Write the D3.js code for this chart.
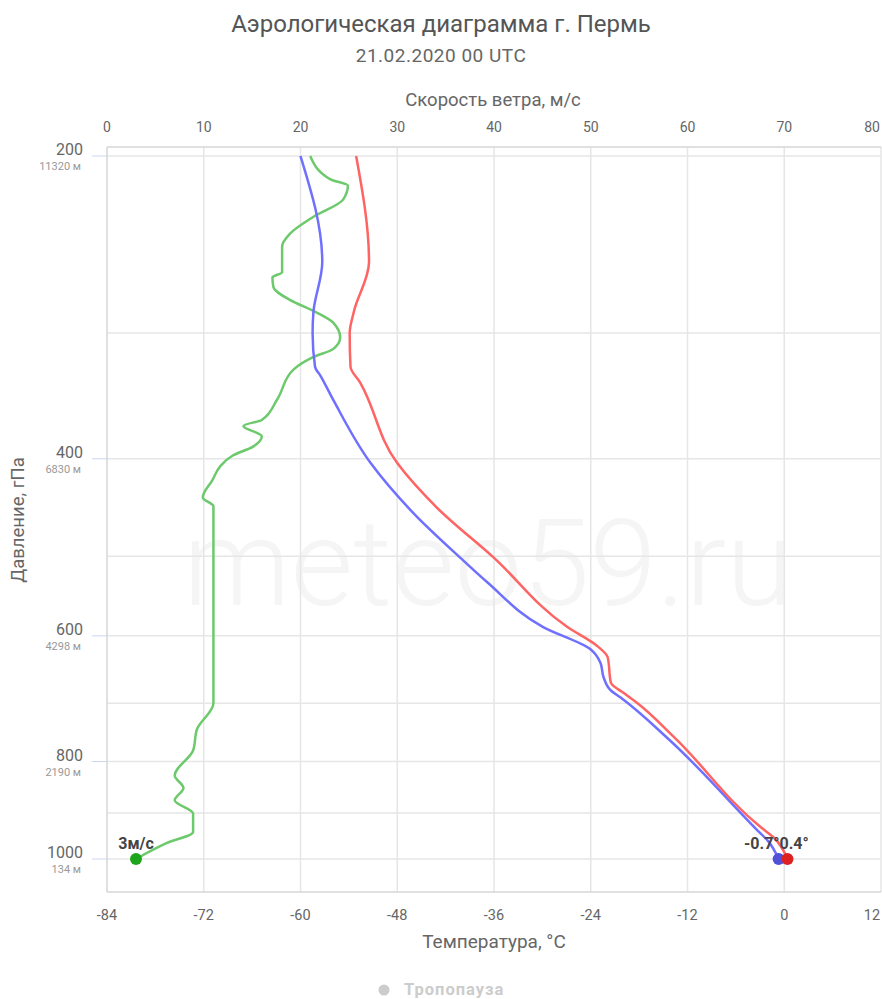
<!DOCTYPE html>
<meta charset="utf-8">
<script src="https://d3js.org/d3.v7.min.js"></script>
<body style="margin:0;background:#fff">
<div id="chart"></div>
</body>
<script>
// pressure levels with labels and heights
const levels = [200, 300, 400, 500, 600, 700, 800, 900, 1000];
const labelLevels = [200, 400, 600, 800, 1000];
const heights = ["11320 м", "6830 м", "4298 м", "2190 м", "134 м"];
const tempTicks = [-84, -72, -60, -48, -36, -24, -12, 0, 12];
const windTicks = [0, 10, 20, 30, 40, 50, 60, 70, 80];

// temperature, °C
const tempP = [200, 255, 286, 300, 324, 336, 404, 448, 501, 588, 615, 630, 668, 684, 700, 756, 930, 952, 1000];
const tempT = [-53.1, -51.5, -53.4, -53.9, -53.8, -52.6, -48.0, -43.0, -36.1, -26.9, -23.1, -21.9, -21.5, -19.9, -18.2, -13.7, -2.9, -1.3, 0.4];

// dew point, °C
const dewP = [200, 255, 286, 300, 324, 331, 350, 404, 453, 505, 531, 588, 619, 638, 660, 680, 691, 758, 937, 960, 1000];
const dewT = [-60.0, -57.3, -58.4, -58.5, -58.2, -57.5, -55.9, -51.3, -46.0, -39.8, -36.8, -29.9, -24.0, -22.8, -22.4, -21.5, -20.3, -14.5, -3.3, -2.0, -0.7];

// wind speed, m/s
const windP = [200, 211, 214, 221, 230, 239, 246, 261, 264, 270, 278, 285, 293, 303, 311, 317, 326, 349, 366, 371, 380, 389, 397, 407, 420, 437, 446, 700, 743, 780, 826, 850, 874, 901, 940, 964, 1000];
const windV = [21.0, 23.1, 24.9, 24.4, 21.3, 18.9, 18.1, 18.1, 17.1, 17.2, 18.9, 21.3, 23.4, 24.1, 23.4, 21.3, 19.3, 17.6, 16.0, 14.1, 16.0, 15.1, 13.0, 11.7, 10.9, 9.9, 11.0, 11.0, 9.3, 8.9, 7.0, 7.9, 7.0, 8.9, 8.9, 6.2, 3.0];

const W = 882, H = 999;
const pLeft = 107, pRight = 881, pTop = 147, pBottom = 892;
const font = "Roboto, 'Open Sans', sans-serif";

const svg = d3.select("#chart").append("svg")
  .attr("width", W).attr("height", H)
  .style("font-family", font);

const y = d3.scaleLog().domain([200, 1000]).range([156, 859]);
const xT = d3.scaleLinear().domain([-84, 12]).range([pLeft, pRight]);
const xW = d3.scaleLinear().domain([0, 80]).range([pLeft, pRight]);

// titles
svg.append("text").attr("x", 441).attr("y", 32).attr("text-anchor", "middle")
  .style("font-size", "24px").style("fill", "#555").text("Аэрологическая диаграмма г. Пермь");
svg.append("text").attr("x", 441).attr("y", 62).attr("text-anchor", "middle")
  .style("font-size", "19px").style("letter-spacing", "0.5px").style("fill", "#666").text("21.02.2020 00 UTC");

// watermark
svg.append("text").attr("x", 488).attr("y", 605).attr("text-anchor", "middle")
  .style("font-size", "121px").style("font-weight", 300).style("fill", "#f5f5f5").text("meteo59.ru");

// grid
const grid = svg.append("g");
grid.selectAll(".hg").data(levels).join("line")
  .attr("x1", pLeft).attr("x2", pRight)
  .attr("y1", d => y(d)).attr("y2", d => y(d))
  .attr("stroke", "#e6e6e6").attr("stroke-width", 1.5);
grid.selectAll(".vg").data(tempTicks.slice(1, -1)).join("line")
  .attr("x1", d => xT(d)).attr("x2", d => xT(d))
  .attr("y1", pTop).attr("y2", pBottom)
  .attr("stroke", "#e6e6e6").attr("stroke-width", 1.5);
grid.append("line").attr("x1", pRight).attr("x2", pRight).attr("y1", pTop).attr("y2", pBottom)
  .attr("stroke", "#e6e6e6").attr("stroke-width", 1.5);
// axis lines
grid.append("line").attr("x1", pLeft).attr("x2", pRight).attr("y1", pTop).attr("y2", pTop)
  .attr("stroke", "#d6d6d6").attr("stroke-width", 1.5);
grid.append("line").attr("x1", pLeft).attr("x2", pRight).attr("y1", pBottom).attr("y2", pBottom)
  .attr("stroke", "#d6d6d6").attr("stroke-width", 1.5);
grid.append("line").attr("x1", pLeft).attr("x2", pLeft).attr("y1", pTop).attr("y2", pBottom)
  .attr("stroke", "#d6d6d6").attr("stroke-width", 1.5);

// pressure labels
const pl = svg.append("g");
pl.selectAll(".tk").data(labelLevels).join("line")
  .attr("x1", 92).attr("x2", pLeft).attr("y1", d => y(d)).attr("y2", d => y(d))
  .attr("stroke", "#ccd6eb").attr("stroke-width", 1);
pl.selectAll(".lb").data(labelLevels).join("text")
  .attr("x", 83).attr("y", d => y(d) - 1).attr("text-anchor", "end")
  .style("font-size", "16px").style("fill", "#666").text(d => d);
pl.selectAll(".hl").data(labelLevels).join("text")
  .attr("x", 81).attr("y", d => y(d) + 14).attr("text-anchor", "end")
  .style("font-size", "11px").style("fill", "#999").text((d, i) => heights[i]);
svg.append("text").attr("transform", "translate(24,520) rotate(-90)").attr("text-anchor", "middle")
  .style("font-size", "18.5px").style("fill", "#666").text("Давление, гПа");

// top axis (wind)
svg.selectAll(".wt").data(windTicks).join("text")
  .attr("x", d => Math.min(xW(d), 872)).attr("y", 132).attr("text-anchor", "middle")
  .style("font-size", "14px").style("fill", "#666").text(d => d);
svg.append("text").attr("x", 493).attr("y", 106).attr("text-anchor", "middle")
  .style("font-size", "18.5px").style("fill", "#666").text("Скорость ветра, м/с");

// bottom axis (temperature)
svg.selectAll(".tt").data(tempTicks).join("text")
  .attr("x", d => Math.max(Math.min(xT(d), 872), 101)).attr("y", 920).attr("text-anchor", "middle")
  .style("font-size", "14.5px").style("fill", "#666").text(d => d);
svg.append("text").attr("x", 494).attr("y", 948).attr("text-anchor", "middle")
  .style("font-size", "19px").style("fill", "#666").text("Температура, °C");

// series
const series = [
  {p: windP, v: windV, x: xW, color: "#6cc96c", dot: "#1ea51e"},
  {p: dewP, v: dewT, x: xT, color: "#7070ff", dot: "#5050d8"},
  {p: tempP, v: tempT, x: xT, color: "#ff6464", dot: "#dd2020"}
];
series.forEach(s => {
  const pts = s.p.map((p, i) => [s.x(s.v[i]), y(p)]);
  svg.append("path")
    .attr("d", d3.line().curve(d3.curveMonotoneY)(pts))
    .attr("fill", "none").attr("stroke", s.color).attr("stroke-width", 2.5)
    .attr("stroke-linejoin", "round");
});
series.forEach(s => {
  const n = s.p.length - 1;
  svg.append("circle").attr("cx", s.x(s.v[n])).attr("cy", y(s.p[n])).attr("r", 6).attr("fill", s.dot);
});

// data labels
const lbl = (x, anchor, t) => svg.append("text").attr("x", x).attr("y", 849)
  .attr("text-anchor", anchor).style("font-size", "16px").style("font-weight", "bold")
  .style("fill", "#444").text(t);
lbl(xW(windV[windV.length - 1]), "middle", windV[windV.length - 1].toFixed(0) + "м/с");
lbl(xT(dewT[dewT.length - 1]) + 1, "end", dewT[dewT.length - 1].toFixed(1) + "°");
lbl(xT(tempT[tempT.length - 1]) - 8, "start", tempT[tempT.length - 1].toFixed(1) + "°");

// legend
svg.append("circle").attr("cx", 384).attr("cy", 990).attr("r", 5.5).attr("fill", "#ccc");
svg.append("text").attr("x", 404).attr("y", 995)
  .style("font-size", "16.5px").style("font-weight", "bold").style("letter-spacing", "1px")
  .style("fill", "#ccc").text("Тропопауза");
</script>
